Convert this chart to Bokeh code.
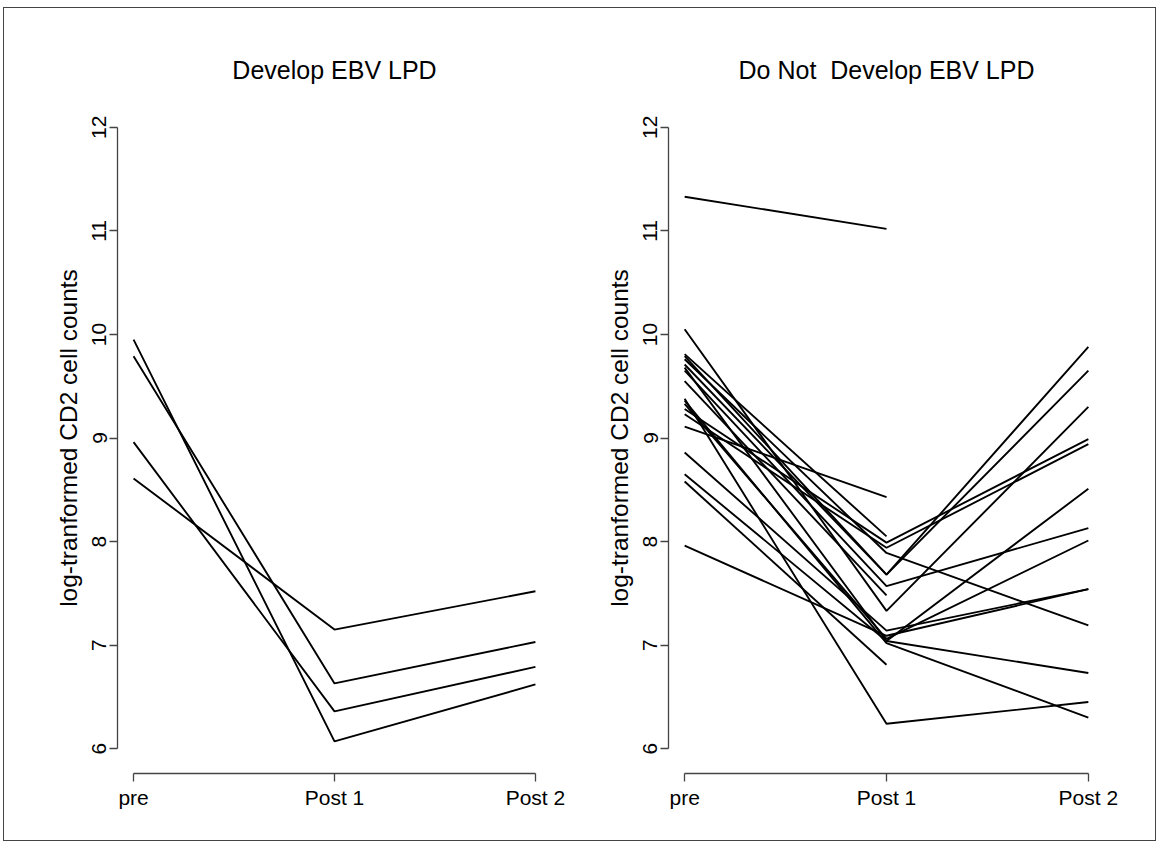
import math
import numpy as np
from bokeh.plotting import figure
from bokeh.layouts import row
from bokeh.models import FixedTicker, Range1d, ColumnDataSource
from bokeh.embed import file_html
from bokeh.resources import INLINE

nan = float("nan")

# x categories (time points) and tick labels
timepoints = [1, 2, 3]
time_labels = ["pre", "Post 1", "Post 2"]
y_ticks = [6, 7, 8, 9, 10, 11, 12]

# Panel 1: Develop EBV LPD
left_pre = [9.95, 9.79, 8.96, 8.61]
left_post1 = [6.07, 6.63, 6.36, 7.15]
left_post2 = [6.62, 7.03, 6.79, 7.52]

# Panel 2: Do Not Develop EBV LPD
right_pre = [11.33, 10.05, 9.81, 9.76, 9.79, 9.71, 9.65, 9.55, 9.68, 9.38,
             9.33, 9.28, 9.23, 9.11, 8.86, 8.65, 8.58, 7.96, 9.36]
right_post1 = [11.02, 7.33, 8.05, 7.89, 7.68, 7.68, 7.57, 7.48, 7.04, 6.24,
               7.06, 7.99, 7.94, 8.43, 7.14, 7.04, 6.81, 7.09, 7.02]
right_post2 = [nan, 9.30, nan, 7.19, 9.88, 9.65, 8.13, nan, 8.51, 6.45,
               8.01, 8.99, 8.94, nan, 7.54, 6.73, nan, 7.54, 6.30]

FONT = "Liberation Sans"


def make_panel(title, pre, post1, post2, width, mbl, mbr):
    p = figure(width=width, height=832, output_backend="svg", toolbar_location=None,
               x_range=Range1d(0.92, 3.08), y_range=Range1d(5.76, 12.24),
               min_border_left=mbl, min_border_right=mbr,
               min_border_top=94, min_border_bottom=67)
    xs, ys = [], []
    for a, b, c in zip(pre, post1, post2):
        vals = [a, b, c]
        xx = [t for t, v in zip(timepoints, vals) if not math.isnan(v)]
        yy = [v for v in vals if not math.isnan(v)]
        xs.append(xx)
        ys.append(yy)
    src = ColumnDataSource(dict(xs=xs, ys=ys))
    p.multi_line("xs", "ys", source=src, line_color="black", line_width=1.9)

    p.grid.visible = False
    p.outline_line_color = None
    p.background_fill_color = "white"
    p.border_fill_color = "white"

    p.title.text = title
    p.title.align = "center"
    p.title.text_font = FONT
    p.title.text_font_size = "25px"
    p.title.text_font_style = "normal"
    p.title.text_color = "black"
    p.title.standoff = 37

    for ax in (p.xaxis[0], p.yaxis[0]):
        ax.axis_line_color = "#444444"
        ax.axis_line_width = 1.3
        ax.major_tick_line_color = "#444444"
        ax.major_tick_line_width = 1.3
        ax.major_tick_in = 0
        ax.major_tick_out = 8
        ax.minor_tick_line_color = None
        ax.major_label_text_font = FONT
        ax.major_label_text_font_size = "21px"
        ax.major_label_text_color = "black"

    p.xaxis.ticker = FixedTicker(ticks=timepoints)
    p.xaxis.major_label_overrides = {t: lab for t, lab in zip(timepoints, time_labels)}
    p.xaxis.bounds = (timepoints[0], timepoints[-1])
    p.xaxis.major_label_standoff = 4

    p.yaxis.ticker = FixedTicker(ticks=y_ticks)
    p.yaxis.bounds = (y_ticks[0], y_ticks[-1])
    p.yaxis.major_label_orientation = "vertical"
    p.yaxis.major_label_standoff = 3
    p.yaxis.axis_label = "log-tranformed CD2 cell counts"
    p.yaxis.axis_label_text_font = FONT
    p.yaxis.axis_label_text_font_size = "24.5px"
    p.yaxis.axis_label_text_font_style = "normal"
    p.yaxis.axis_label_text_color = "black"
    p.yaxis.axis_label_standoff = 8
    return p


p1 = make_panel("Develop EBV LPD", left_pre, left_post1, left_post2, 589, 113, 42)
p2 = make_panel("Do Not\u00a0 Develop EBV LPD", right_pre, right_post1, right_post2, 562, 75, 51)

layout = row(p1, p2, styles={"border": "1px solid #444444", "margin-left": "3px", "margin-top": "7px"})

open("out.html", "w").write(file_html(layout, INLINE))
